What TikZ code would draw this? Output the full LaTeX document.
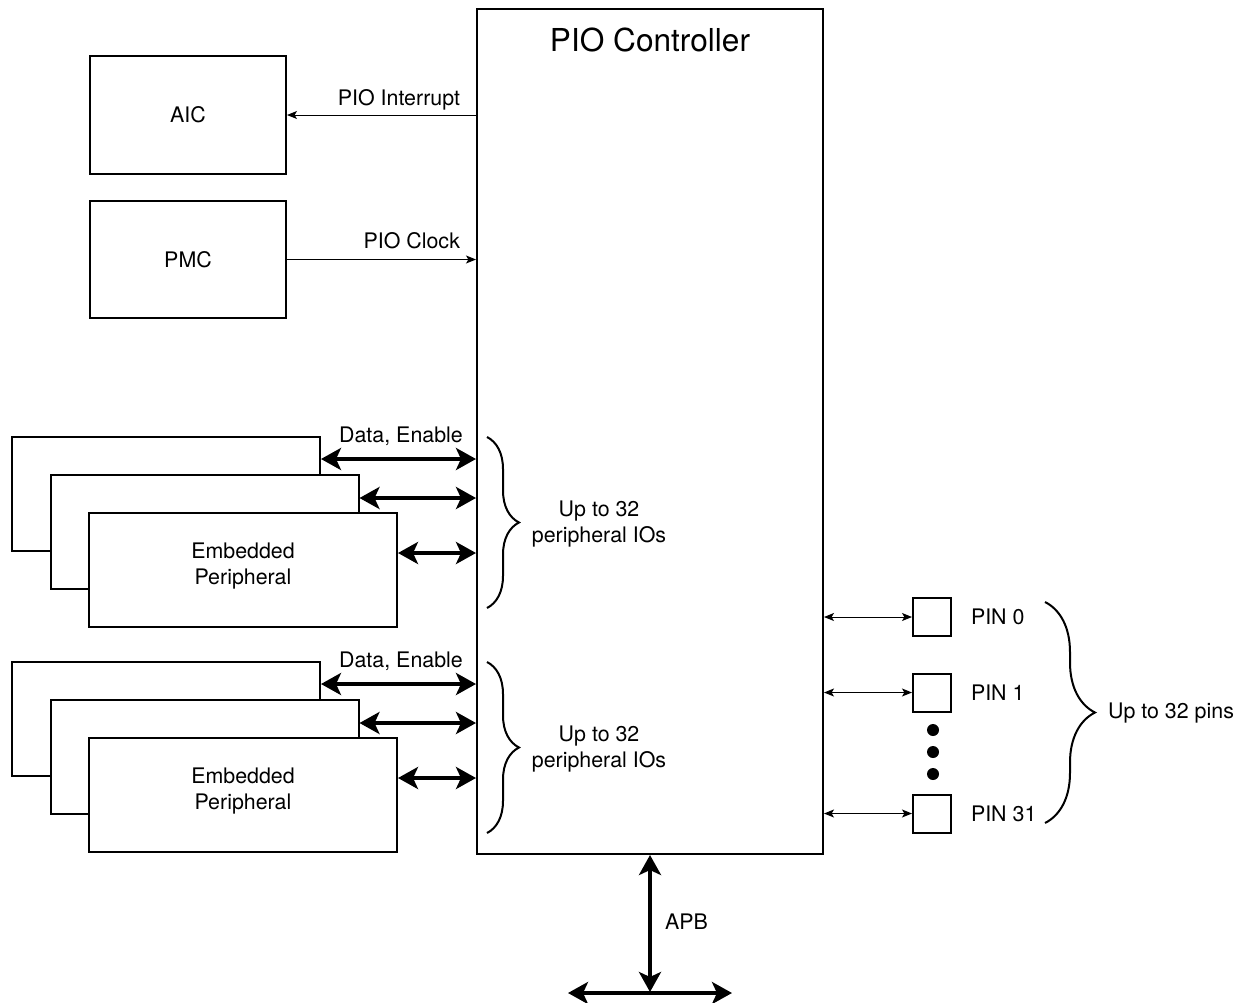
\documentclass[tikz,border=0pt]{standalone}
\usepackage{fontspec}
\setmainfont{TeX Gyre Heros}
\usetikzlibrary{arrows.meta,decorations.pathreplacing}

\begin{document}
\begin{tikzpicture}[x=0.5pt,y=-0.5pt,line width=1pt,
  box/.style={draw,fill=white,line width=1pt,inner sep=0pt,font=\fontsize{10.7}{12.8}\selectfont,align=center},
  lbl/.style={font=\fontsize{10.7}{12.8}\selectfont,inner sep=0pt,align=center},
  sig/.style={line width=0.5pt,>={Stealth[length=5pt,width=4pt,inset=1.2pt]}},
  bus/.style={line width=2pt,>={Stealth[length=10pt,width=11pt,inset=2.5pt]},<->},
  brc/.style={decorate,line width=1pt}]
  \useasboundingbox (0,0) rectangle (1243,1002);
  % controller
  \node[box,minimum width=173pt,minimum height=422.5pt] (pio) at (650,431.5) {};
  \node[lbl,font=\fontsize{15.8}{18}\selectfont] (title) at (650,40) {PIO Controller};
  % AIC and PMC
  \node[box,minimum width=98pt,minimum height=59pt] (aic) at (188,115) {AIC};
  \node[box,minimum width=98pt,minimum height=58.5pt] (pmc) at (188,259.5) {PMC};
  \draw[sig,->] (pio.west |- aic) -- (aic.east);
  \node[lbl,anchor=base east] (irq) at (461,105) {PIO Interrupt};
  \draw[sig,->] (pmc.east) -- (pio.west |- pmc);
  \node[lbl,anchor=base east] (clk) at (461,248) {PIO Clock};
  % embedded peripherals
  \foreach \g/\n in {0/1,225/2}{
    \foreach \i in {0,1,2}
      \node[box,minimum width=154pt,minimum height=57pt] (per\n\i) at (166+38.5*\i,494+38*\i+\g) {};
    \node[lbl] (ep\n) at (243,566+\g) {Embedded\\Peripheral};
    \foreach \y/\i in {459/0,498/1,553/2}{
      \coordinate (d\n\i) at (0,\y+\g);
      \draw[bus] (per\n\i.east |- d\n\i) -- (pio.west |- d\n\i);
    }
    \node[lbl,anchor=base] (de\n) at (401,442+\g) {Data, Enable};
    \draw[brc,decoration={brace,amplitude=16pt}] (487,437+\g) -- (487,608+\g);
    \node[lbl] (io\n) at (599,524+\g) {Up to 32\\peripheral IOs};
  }
  % pins
  \foreach \n/\y in {0/617,1/692.5,31/813.5}{
    \node[box,minimum size=19pt] (pin\n) at (932,\y) {};
    \node[lbl,anchor=west] (pl\n) at (970,\y) {PIN \n};
    \draw[sig,<->] (pio.east |- pin\n) -- (pin\n.west);
  }
  \foreach \y in {730,752,774}
    \fill (933,\y) circle[radius=3pt];
  \draw[brc,decoration={brace,amplitude=25pt}] (1045,602) -- (1045,823);
  \node[lbl,anchor=west] (pins) at (1107,713) {Up to 32 pins};
  % APB
  \coordinate (apbM) at (650,992);
  \coordinate (apbL) at (568,993);
  \coordinate (apbR) at (732,993);
  \draw[bus] (pio.south) -- (apbM);
  \draw[bus] (apbL) -- (apbR);
  \node[lbl,anchor=west] (apb) at (664,922) {APB};
\end{tikzpicture}
\end{document}
